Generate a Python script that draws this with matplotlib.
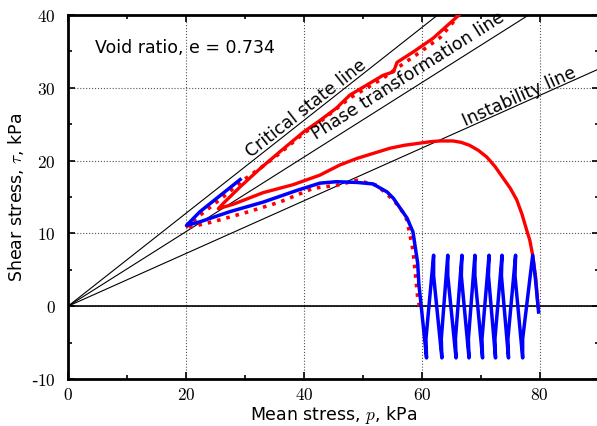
import numpy as np
import matplotlib
matplotlib.use('Agg')
import matplotlib.pyplot as plt
from matplotlib.ticker import MultipleLocator, FuncFormatter

plt.rcParams['mathtext.fontset'] = 'cm'
plt.rcParams['font.family'] = 'DejaVu Sans'

# reference lines through origin (slopes tau/p)
csl_slope = 0.638
ptl_slope = 0.512
inst_slope = 0.362

# monotonic test from p = 80 kPa (red solid)
red_p = [79.7, 79.3, 78.8, 78.3, 77.8, 77.0, 76.1, 75.0, 73.7, 72.4, 71.0, 69.6, 68.1,
         66.7, 65.3, 63.1, 61.5, 59.7, 57.0, 54.6, 51.8, 49.0, 46.1, 42.7, 38.2, 33.1,
         28.0, 25.5, 26.3, 29.2, 32.3, 35.9, 39.9, 42.7, 45.5, 47.8, 53.4, 55.2, 55.8,
         58.5, 61.9, 65.9, 67.0]
red_t = [0.0, 4.0, 7.0, 9.1, 10.4, 12.6, 14.6, 16.2, 17.7, 19.2, 20.5, 21.4, 22.1,
         22.5, 22.7, 22.7, 22.6, 22.4, 22.1, 21.7, 21.0, 20.3, 19.4, 18.0, 16.7, 15.6,
         14.0, 13.4, 14.1, 16.4, 18.7, 21.2, 23.9, 25.5, 27.2, 29.0, 31.7, 32.2, 33.5,
         34.9, 36.8, 39.7, 40.5]

# monotonic test from p = 60 kPa (red dotted)
dot_p = [59.6, 59.3, 58.5, 57.5, 56.8, 55.7, 54.6, 52.4, 49.0, 45.5, 41.6, 35.9, 30.3,
         24.6, 21.9, 19.8, 22.4, 26.3, 29.7, 32.5, 35.9, 39.9, 42.7, 47.8, 53.4,
         55.8, 59.7, 63.1, 65.3, 66.4]
dot_t = [0.0, 1.2, 7.7, 11.8, 12.9, 14.1, 15.0, 16.6, 17.3, 16.6, 16.2, 14.3, 12.9,
         11.6, 11.1, 10.7, 12.5, 15.0, 17.3, 18.9, 21.0, 23.7, 25.3, 28.6, 31.3,
         32.7, 34.9, 36.9, 39.0, 40.5]

# cyclic test from p = 80 kPa (blue), then monotonic
blue_p = [79.8, 79.3, 78.8, 77.1, 77.1, 75.8, 75.9, 74.6, 74.7, 73.5, 73.6, 72.4,
          72.5, 71.3, 71.4, 70.2, 70.3, 69.0, 69.0, 67.9, 68.0, 66.7, 66.8, 65.7,
          65.8, 64.4, 64.4, 63.3, 63.4, 62.0, 62.0, 60.7, 60.8,
          59.9, 59.5, 59.3, 58.5, 57.5, 56.3, 55.2, 54.1, 51.7, 49.0, 45.5, 42.7,
          38.8, 33.1, 27.5, 22.4, 20.1, 22.4, 25.8, 29.2]
blue_t = [-0.8, 3.5, 7.0, -4.5, -7.1, 4.2, 7.0, -4.5, -7.1, 4.2, 7.0, -4.5,
          -7.1, 4.2, 7.0, -4.5, -7.1, 4.2, 7.0, -4.5, -7.1, 4.2, 7.0, -4.5,
          -7.1, 4.2, 7.0, -4.5, -7.1, 4.2, 7.0, -4.5, -7.1,
          0.0, 3.0, 5.9, 10.2, 12.1, 13.5, 14.8, 15.7, 16.8, 17.0, 17.1, 16.9,
          15.9, 14.3, 13.0, 11.6, 11.1, 13.0, 15.2, 17.4]

fig = plt.figure(figsize=(5.97, 4.26), dpi=100)
ax = fig.add_axes([0.1139, 0.1103, 0.889, 0.8545])

p_line = np.array([0, 100])
ax.plot(p_line, csl_slope * p_line, 'k-', lw=0.8)
ax.plot(p_line, ptl_slope * p_line, 'k-', lw=0.8)
ax.plot(p_line, inst_slope * p_line, 'k-', lw=0.8)
ax.axhline(0, color='k', lw=1.2)

ax.plot(red_p, red_t, '-', color='#ff0000', lw=2.4, zorder=3)
ax.plot(dot_p, dot_t, ':', color='#ff0000', lw=2.6, zorder=3)
ax.plot(blue_p, blue_t, '-', color='#0000ff', lw=2.5, zorder=4)

ax.set_xlim(0, 90)
ax.set_ylim(-10, 40)
ax.xaxis.set_major_locator(MultipleLocator(20))
ax.xaxis.set_minor_locator(MultipleLocator(10))
ax.yaxis.set_major_locator(MultipleLocator(10))
ax.yaxis.set_minor_locator(MultipleLocator(5))
ax.grid(True, which='major', color='#555555', ls=':', lw=0.8)
ax.tick_params(which='both', direction='in', top=True, right=True, width=1.2)
ax.tick_params(which='major', length=5, labelsize=12.5)
ax.tick_params(axis='x', which='major', pad=5)
ax.tick_params(axis='y', which='major', pad=9)
ax.tick_params(which='minor', length=3)
fmt = FuncFormatter(lambda v, pos: '$%d$' % v if v >= 0 else '-$%d$' % abs(v))
ax.xaxis.set_major_formatter(fmt)
ax.yaxis.set_major_formatter(fmt)
for s in ax.spines.values():
    s.set_linewidth(2)

ax.set_xlabel(r'Mean stress, $p$, kPa', fontsize=12.5, labelpad=0)
ax.set_ylabel(r'Shear stress, $\tau$, kPa', fontsize=12.5, labelpad=3)

ax.text(4.6, 35.4, 'Void ratio, e = 0.734', fontsize=12.5, va='center')
ax.text(40.3, 27.2, 'Critical state line', fontsize=12.5, rotation=38,
        ha='center', va='center', rotation_mode='anchor')
ax.text(57.6, 31.6, 'Phase transformation line', fontsize=12.5, rotation=32.3,
        ha='center', va='center', rotation_mode='anchor')
ax.text(76.6, 28.8, 'Instability line', fontsize=12.5, rotation=24,
        ha='center', va='center', rotation_mode='anchor')

plt.savefig('out.png', dpi=100)
